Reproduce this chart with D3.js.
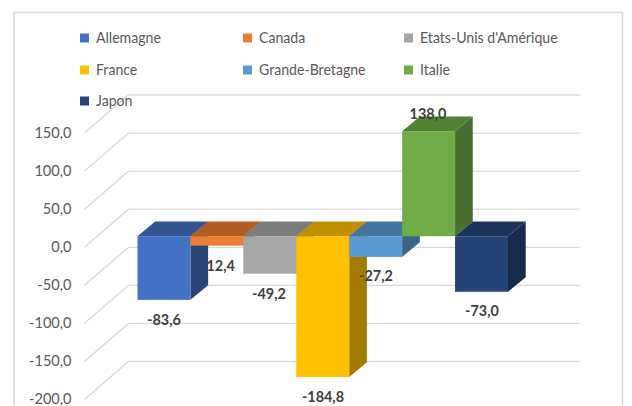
<!DOCTYPE html>
<html><head><meta charset="utf-8">
<script src="https://cdn.jsdelivr.net/npm/d3@7"></script>
<style>html,body{margin:0;padding:0;background:#fff}svg{display:block}text{font-family:Lato,"Open Sans",sans-serif}</style>
</head><body><svg id="c" width="632" height="406"></svg>
<script>
const categories=["Allemagne","Canada","Etats-Unis d'Amérique","France","Grande-Bretagne","Italie","Japon"];
const values=[-83.6,-12.4,-49.2,-184.8,-27.2,138.0,-73.0];
const tickValues=[150,100,50,0,-50,-100,-150,-200];
const frontColors=["#4472c4","#ed7d31","#a5a5a5","#ffc000","#5b9bd5","#70ad47","#264478"];
const topColors=["#335593","#b25d25","#7c7c7c","#bf9000","#44749f","#548235","#1c335a"];
const sideColors=["#2a4678","#8e4b1e","#636363","#a37b00","#3a6488","#486f2e","#182b4d"];
const fmt=v=>d3.format(".1f")(v).replace(".",",").replace("−","-");
const narrow=(sel,k)=>sel.each(function(){const n=this.getComputedTextLength();d3.select(this).attr("textLength",n*k).attr("lengthAdjust","spacingAndGlyphs");});
const svg=d3.select("#c");
svg.append("rect").attr("x",14).attr("y",12.5).attr("width",608.5).attr("height",402).attr("fill","#fff").attr("stroke","#d9d9d9").attr("stroke-width",1.6);
const y=d3.scaleLinear().domain([-200,150]).range([399.5,133]);
const x=d3.scaleBand().domain(categories).range([137.5,508]).padding(0);
const depthX=44,depthY=38,barDX=17.7,barDY=14.6,barOffY=-11;
const grid=svg.append("g");
const rightEnd=579.5;
tickValues.forEach(t=>{
  const yy=y(t);
  grid.append("path").attr("d",d3.line()([[84.5,yy],[84.5+depthX,yy-depthY],[rightEnd,yy-depthY]])).attr("fill","none").attr("stroke","#d9d9d9").attr("stroke-width",1.3);
});
svg.append("g").selectAll("text").data(tickValues).join("text").attr("x",71.5).attr("y",d=>y(d)+4.8).attr("text-anchor","end").attr("font-size",15).attr("fill","#595959").text(fmt).call(narrow,0.97);
const bars=svg.append("g");
const zero=y(0)+barOffY;
const h=v=>y(0)-y(v);
categories.forEach((c,i)=>{
  const v=values[i],x0=x(c),w=x.bandwidth(),x1=x0+w;
  const topY=v>0?zero-h(v):zero, botY=v>0?zero:zero+h(-v);
  bars.append("polygon").attr("points",[[x1,topY],[x1+barDX,topY-barDY],[x1+barDX,botY-barDY],[x1,botY]].join(" ")).attr("fill",sideColors[i]);
  bars.append("polygon").attr("points",[[x0,topY],[x0+barDX,topY-barDY],[x1+barDX,topY-barDY],[x1,topY]].join(" ")).attr("fill",topColors[i]);
  bars.append("rect").attr("x",x0).attr("y",topY).attr("width",w).attr("height",botY-topY).attr("fill",frontColors[i]);
});
const labelPos=[[164,320],[218,266],[269,294],[323,397],[376,276],[428,114],[482,311]];
svg.append("g").selectAll("text").data(values).join("text").attr("x",(d,i)=>labelPos[i][0]).attr("y",(d,i)=>labelPos[i][1]+5).attr("text-anchor","middle").attr("font-size",15).attr("font-weight","bold").attr("fill","#404040").text(fmt).call(narrow,0.96);
const legendX=[80,243,404],legendY=[38,70,101];
const leg=svg.append("g");
categories.forEach((c,i)=>{
  const lx=legendX[i%3],ly=legendY[Math.floor(i/3)];
  leg.append("rect").attr("x",lx).attr("y",ly-4.5).attr("width",9).attr("height",9).attr("fill",frontColors[i]);
  leg.append("text").attr("x",lx+16).attr("y",ly+5).attr("font-size",15).attr("fill","#595959").text(c).call(narrow,0.94);
});
</script></body></html>
